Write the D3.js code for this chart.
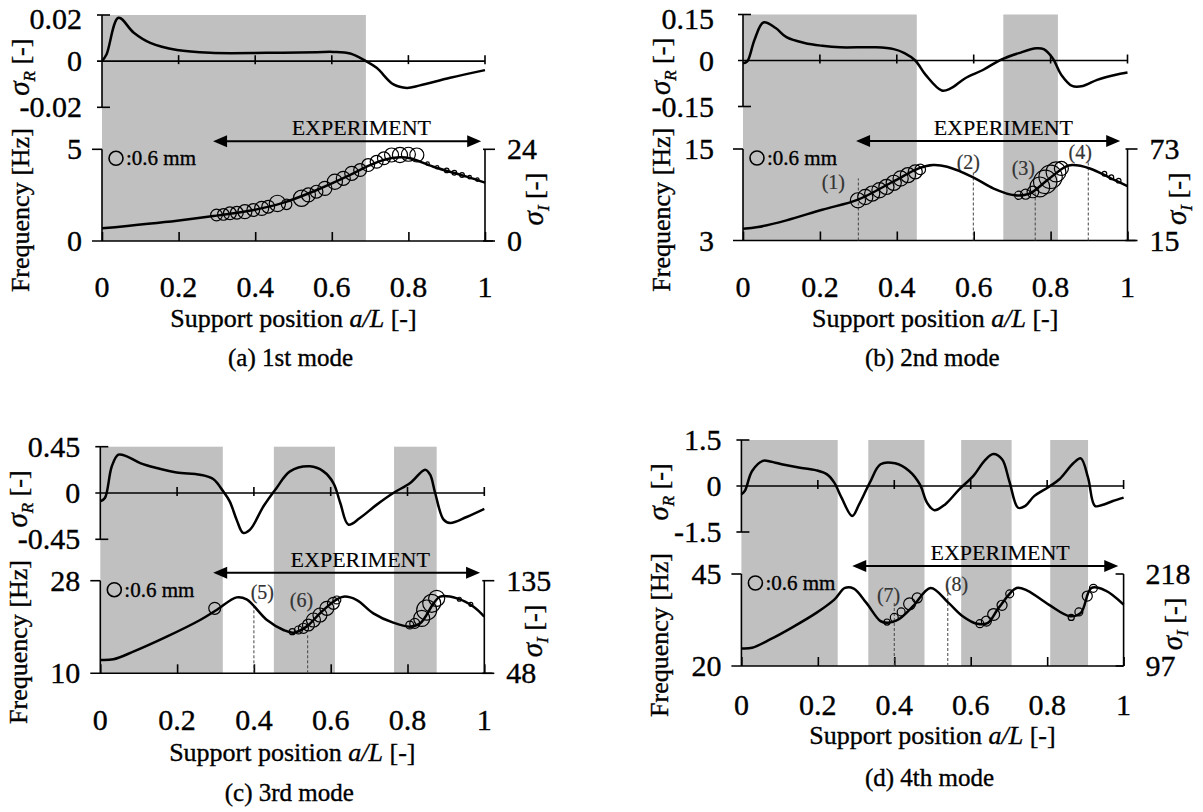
<!DOCTYPE html>
<html>
<head>
<meta charset="utf-8">
<script src="https://cdn.jsdelivr.net/npm/d3@7"></script>
<style>
  body { margin: 0; background: #fff; }
  svg { font-family: "Liberation Serif", "Times New Roman", serif; }
  svg text { stroke: #000; stroke-width: 0.35px; }
  svg text.mark { stroke: #333; stroke-width: 0.2px; }
</style>
</head>
<body>
<svg id="fig" width="1203" height="812"></svg>
<script>
// ---- shared ticks
var xTicks = [0, 0.2, 0.4, 0.6, 0.8, 1]

// ---- (a) 1st mode
var aSigX = [0, 0.012, 0.043, 0.083, 0.126, 0.196, 0.283, 0.43, 0.561, 0.604, 0.648, 0.689, 0.717, 0.761, 0.796, 0.83, 0.909, 1.0]
var aSigR = [0, 0.003, 0.0188, 0.0123, 0.0079, 0.0048, 0.0036, 0.0036, 0.0039, 0.004, 0.0033, 0, -0.0029, -0.0101, -0.0116, -0.0105, -0.0072, -0.0039]
var aFreqX = [0, 0.196, 0.291, 0.396, 0.474, 0.561, 0.648, 0.691, 0.735, 0.778, 0.804, 0.865, 0.952, 1.0]
var aFreq = [0.69, 1.11, 1.36, 1.69, 2.09, 2.78, 3.6, 4.05, 4.42, 4.56, 4.51, 4.05, 3.51, 3.18]
var aExpX = [0.299, 0.317, 0.334, 0.352, 0.373, 0.395, 0.417, 0.434, 0.458, 0.482, 0.521, 0.539, 0.56, 0.582, 0.608, 0.63, 0.652, 0.674, 0.695, 0.717, 0.736, 0.756, 0.778, 0.8, 0.822, 0.85, 0.875, 0.9, 0.92, 0.94, 0.96, 0.98]
var aExpF = [1.42, 1.45, 1.51, 1.54, 1.6, 1.69, 1.78, 1.87, 2.05, 2.0, 2.33, 2.51, 2.69, 2.87, 3.23, 3.42, 3.69, 3.87, 4.14, 4.32, 4.51, 4.69, 4.69, 4.73, 4.69, 4.22, 4.02, 3.85, 3.72, 3.6, 3.48, 3.35]
var aExpAmp = [0.5, 0.5, 0.55, 0.55, 0.6, 0.55, 0.6, 0.55, 0.7, 0.45, 0.7, 0.6, 0.55, 0.6, 0.65, 0.6, 0.6, 0.55, 0.55, 0.55, 0.55, 0.6, 0.65, 0.6, 0.6, 0.15, 0.15, 0.2, 0.2, 0.2, 0.15, 0.15]
var aBands = [[0, 0.689]]
var aSigTicks = [-0.02, 0, 0.02]
var aFreqTicks = [0, 5]
var aSigITicks = [0, 24]
var aExpRange = [0.29, 0.99]
var aMarkX = [], aMarkTop = [], aMarkLabel = []

// ---- (b) 2nd mode
var bSigX = [0, 0.011, 0.03, 0.053, 0.085, 0.113, 0.16, 0.206, 0.253, 0.345, 0.392, 0.42, 0.448, 0.475, 0.517, 0.54, 0.578, 0.624, 0.67, 0.717, 0.763, 0.782, 0.805, 0.828, 0.856, 0.884, 0.921, 0.967, 1.0]
var bSigR = [-0.009, -0.003, 0.068, 0.124, 0.106, 0.076, 0.057, 0.048, 0.043, 0.043, 0.037, 0.024, 0, -0.047, -0.098, -0.091, -0.058, -0.031, 0.002, 0.024, 0.04, 0.037, 0.008, -0.047, -0.083, -0.083, -0.063, -0.047, -0.039]
var bFreqX = [0, 0.039, 0.113, 0.206, 0.299, 0.392, 0.457, 0.494, 0.531, 0.596, 0.652, 0.707, 0.745, 0.791, 0.838, 0.856, 0.902, 0.958, 1.0]
var bFreq = [4.54, 4.76, 5.64, 7.04, 8.36, 10.77, 12.45, 12.89, 12.67, 11.35, 9.81, 8.93, 9.15, 10.9, 12.67, 12.89, 12.45, 11.13, 10.12]
var bExpX = [0.299, 0.318, 0.336, 0.355, 0.373, 0.392, 0.41, 0.429, 0.448, 0.461, 0.717, 0.735, 0.754, 0.772, 0.786, 0.8, 0.814, 0.828, 0.94, 0.958, 0.977]
var bExpF = [8.27, 8.71, 9.15, 9.59, 10.03, 10.56, 11.13, 11.57, 12.01, 12.32, 8.93, 9.07, 9.37, 10.03, 10.69, 11.35, 12.0, 12.45, 11.75, 11.3, 10.85]
var bExpAmp = [0.65, 0.65, 0.65, 0.65, 0.65, 0.65, 0.65, 0.65, 0.6, 0.45, 0.35, 0.43, 0.5, 0.85, 1.0, 1.0, 0.85, 0.6, 0.2, 0.2, 0.2]
var bBands = [[0, 0.452], [0.677, 0.819]]
var bSigTicks = [-0.15, 0, 0.15]
var bFreqTicks = [3, 15]
var bSigITicks = [15, 73]
var bExpRange = [0.294, 0.981]
var bMarkX = [0.3, 0.599, 0.76, 0.898]
var bMarkTop = [11.14, 12.2, 9.4, 13.55]
var bMarkLabel = ["(1)", "(2)", "(3)", "(4)"]

// ---- (c) 3rd mode
var cSigX = [0, 0.012, 0.03, 0.047, 0.069, 0.104, 0.147, 0.199, 0.26, 0.294, 0.32, 0.337, 0.355, 0.372, 0.39, 0.425, 0.459, 0.494, 0.546, 0.581, 0.607, 0.625, 0.646, 0.676, 0.72, 0.763, 0.807, 0.846, 0.859, 0.872, 0.894, 0.911, 0.954, 1.0]
var cSigR = [-0.081, -0.049, 0.26, 0.372, 0.356, 0.291, 0.243, 0.2, 0.178, 0.136, 0.016, -0.081, -0.259, -0.388, -0.356, -0.129, 0.049, 0.21, 0.259, 0.21, 0.097, -0.097, -0.307, -0.243, -0.113, 0, 0.097, 0.227, 0.178, 0, -0.259, -0.291, -0.233, -0.155]
var cFreqX = [0, 0.034, 0.086, 0.173, 0.26, 0.303, 0.355, 0.381, 0.434, 0.477, 0.503, 0.537, 0.572, 0.607, 0.633, 0.668, 0.711, 0.763, 0.807, 0.833, 0.868, 0.885, 0.929, 0.972, 1.0]
var cFreq = [12.59, 12.72, 14.21, 17.12, 20.36, 22.3, 24.76, 24.37, 20.36, 18.42, 17.9, 19.07, 21.66, 23.92, 24.89, 24.24, 21.66, 19.84, 19.07, 19.71, 23.6, 24.89, 24.56, 22.95, 21.01]
var cExpX = [0.298, 0.5, 0.516, 0.529, 0.542, 0.555, 0.572, 0.59, 0.607, 0.616, 0.806, 0.819, 0.837, 0.85, 0.863, 0.876, 0.935, 0.965]
var cExpF = [22.63, 18.1, 18.42, 18.75, 19.39, 20.36, 21.33, 22.63, 23.6, 24.25, 19.39, 19.7, 20.68, 22.3, 23.6, 24.57, 24.4, 23.4]
var cExpAmp = [0.51, 0.26, 0.34, 0.43, 0.51, 0.6, 0.6, 0.6, 0.51, 0.34, 0.34, 0.43, 0.69, 0.86, 0.77, 0.69, 0.17, 0.17]
var cBands = [[0, 0.319], [0.452, 0.611], [0.765, 0.876]]
var cSigTicks = [-0.45, 0, 0.45]
var cFreqTicks = [10, 28]
var cSigITicks = [48, 135]
var cExpRange = [0.294, 0.989]
var cMarkX = [0.4, 0.54]
var cMarkTop = [22.9, 17.4]
var cMarkLabel = ["(5)", "(6)"]

// ---- (d) 4th mode
var dSigX = [0, 0.009, 0.028, 0.056, 0.075, 0.112, 0.15, 0.196, 0.224, 0.243, 0.262, 0.29, 0.308, 0.336, 0.364, 0.402, 0.439, 0.467, 0.486, 0.505, 0.533, 0.57, 0.607, 0.636, 0.659, 0.682, 0.701, 0.724, 0.743, 0.766, 0.804, 0.832, 0.869, 0.888, 0.907, 0.925, 0.944, 0.972, 1.0]
var dSigR = [-0.27, -0.16, 0.49, 0.82, 0.8, 0.69, 0.6, 0.51, 0.38, 0.11, -0.38, -0.98, -0.6, 0.11, 0.71, 0.74, 0.49, 0.05, -0.55, -0.79, -0.6, -0.11, 0.33, 0.82, 1.04, 0.87, 0.16, -0.71, -0.65, -0.33, -0.03, 0.22, 0.75, 0.9, 0.27, -0.65, -0.62, -0.49, -0.38]
var dFreqX = [0, 0.028, 0.075, 0.131, 0.196, 0.243, 0.271, 0.294, 0.327, 0.364, 0.383, 0.411, 0.449, 0.495, 0.542, 0.579, 0.617, 0.645, 0.673, 0.72, 0.748, 0.804, 0.86, 0.888, 0.916, 0.953, 1.0]
var dFreq = [24.78, 24.96, 27.22, 30.38, 34.44, 38.05, 41.21, 41.03, 37.15, 32.18, 31.73, 32.63, 36.24, 41.21, 37.15, 33.53, 31.46, 31.73, 35.79, 41.21, 40.49, 36.69, 33.53, 34.44, 41.21, 40.49, 36.69]
var dExpX = [0.381, 0.4, 0.418, 0.44, 0.46, 0.624, 0.641, 0.66, 0.682, 0.702, 0.863, 0.883, 0.905, 0.921]
var dExpF = [31.95, 33.2, 34.7, 36.9, 38.5, 31.5, 32.2, 34.0, 36.5, 39.6, 33.2, 34.7, 39.0, 41.1]
var dExpAmp = [0.26, 0.34, 0.34, 0.51, 0.43, 0.34, 0.43, 0.51, 0.43, 0.34, 0.26, 0.34, 0.43, 0.34]
var dBands = [[0, 0.252], [0.332, 0.479], [0.575, 0.707], [0.808, 0.907]]
var dSigTicks = [-1.5, 0, 1.5]
var dFreqTicks = [20, 45]
var dSigITicks = [97, 218]
var dExpRange = [0.29, 0.986]
var dMarkX = [0.4, 0.54]
var dMarkTop = [37.1, 41.5]
var dMarkLabel = ["(7)", "(8)"]

// ---- layout (pixels) of each panel
var panels = [
  { x0: 102, x1: 485, uTop: 15, uBot: 107.3, lTop: 149.3, lBot: 241, tickY: 297, titleY: 327, capY: 366, rightIn: false, labGap: 20,
    caption: "(a) 1st mode", sigX: aSigX, sigR: aSigR, fX: aFreqX, f: aFreq, eX: aExpX, eF: aExpF, eA: aExpAmp,
    bands: aBands, sT: aSigTicks, fT: aFreqTicks, iT: aSigITicks, exp: aExpRange,
    mX: aMarkX, mTop: aMarkTop, mLab: aMarkLabel, mPos: [] },
  { x0: 743, x1: 1127.5, uTop: 14.5, uBot: 106.5, lTop: 149, lBot: 240.5, tickY: 297, titleY: 327, capY: 366, rightIn: false, labGap: 29,
    caption: "(b) 2nd mode", sigX: bSigX, sigR: bSigR, fX: bFreqX, f: bFreq, eX: bExpX, eF: bExpF, eA: bExpAmp,
    bands: bBands, sT: bSigTicks, fT: bFreqTicks, iT: bSigITicks, exp: bExpRange,
    mX: bMarkX, mTop: bMarkTop, mLab: bMarkLabel, mPos: [[0.235, 10.7], [0.586, 13.3], [0.729, 12.45], [0.877, 14.6]] },
  { x0: 100.3, x1: 484.3, uTop: 446.7, uBot: 539.3, lTop: 580.7, lBot: 673.3, tickY: 730, titleY: 761, capY: 801, rightIn: false, labGap: 20,
    caption: "(c) 3rd mode", sigX: cSigX, sigR: cSigR, fX: cFreqX, f: cFreq, eX: cExpX, eF: cExpF, eA: cExpAmp,
    bands: cBands, sT: cSigTicks, fT: cFreqTicks, iT: cSigITicks, exp: cExpRange,
    mX: cMarkX, mTop: cMarkTop, mLab: cMarkLabel, mPos: [[0.422, 25.9], [0.524, 24.25]] },
  { x0: 741.4, x1: 1123.6, uTop: 440, uBot: 532, lTop: 574, lBot: 666, tickY: 715, titleY: 744, capY: 786, rightIn: true, labGap: 20,
    caption: "(d) 4th mode", sigX: dSigX, sigR: dSigR, fX: dFreqX, f: dFreq, eX: dExpX, eF: dExpF, eA: dExpAmp,
    bands: dBands, sT: dSigTicks, fT: dFreqTicks, iT: dSigITicks, exp: dExpRange,
    mX: dMarkX, mTop: dMarkTop, mLab: dMarkLabel, mPos: [[0.385, 39.2], [0.563, 42.3]] }
]

var svg = d3.select("#fig")

// circle radius: 0.6 mm -> 7 px (legend)
var rScale = d3.scaleLinear().domain([0, 0.6]).range([0, 7])

function hline(g, x1, x2, y, w) {
  g.append("line").attr("x1", x1).attr("x2", x2).attr("y1", y).attr("y2", y)
    .attr("stroke", "#000").attr("stroke-width", w || 1.6)
}
function vline(g, x, y1, y2, w) {
  g.append("line").attr("x1", x).attr("x2", x).attr("y1", y1).attr("y2", y2)
    .attr("stroke", "#000").attr("stroke-width", w || 1.6)
}

function sigmaLabel(g, x, y, sub, rot) {
  var t = g.append("text").attr("transform", "translate(" + x + "," + y + ") rotate(" + rot + ")")
    .attr("text-anchor", "middle").style("font-size", "26px")
  t.append("tspan").attr("font-style", "italic").style("font-size", "29px").text("\u03C3")
  t.append("tspan").attr("font-style", "italic").style("font-size", "17px").attr("dy", 6).text(sub)
  t.append("tspan").attr("dy", -6).text(" [-]")
}

panels.forEach(function (p) {
  var g = svg.append("g")
  var x = d3.scaleLinear().domain([0, 1]).range([p.x0, p.x1])
  var yU = d3.scaleLinear().domain([p.sT[0], p.sT[2]]).range([p.uBot, p.uTop])
  var yL = d3.scaleLinear().domain(p.fT).range([p.lBot, p.lTop])

  // gray bands
  g.selectAll("rect.band").data(p.bands).join("rect")
    .attr("class", "band")
    .attr("x", function (d) { return x(d[0]) })
    .attr("width", function (d) { return x(d[1]) - x(d[0]) })
    .attr("y", p.uTop).attr("height", p.lBot - p.uTop)
    .attr("fill", "#c0c0c0")

  // ---- upper plot axes
  var y0 = yU(0)
  vline(g, p.x0, p.uTop, p.uBot)
  hline(g, p.x0 - 5, p.x1, y0)
  hline(g, p.x0 - 5, p.x0 + 8, yU(p.sT[0]))
  hline(g, p.x0 - 5, p.x0 + 8, yU(p.sT[2]))
  g.selectAll("line.utick").data(xTicks.slice(1)).join("line").attr("class", "utick")
    .attr("x1", x).attr("x2", x).attr("y1", y0 - 6).attr("y2", y0 + 3)
    .attr("stroke", "#000").attr("stroke-width", 1.6)
  g.selectAll("text.stick").data(p.sT).join("text").attr("class", "stick")
    .attr("x", p.x0 - p.labGap).attr("y", function (d) { return Math.max(yU(d) + 10, 29) })
    .attr("text-anchor", "end").style("font-size", "30px")
    .text(function (d) { return String(d) })

  // ---- lower plot axes
  vline(g, p.x0, p.lTop, p.lBot)
  hline(g, p.x0 - 10, p.x0, p.lTop)
  hline(g, p.x0 - 10, p.rightIn ? p.x1 : p.x1 + 8, p.lBot)
  vline(g, p.x1, p.lTop, p.lBot)
  if (p.rightIn) {
    hline(g, p.x1 - 8, p.x1, p.lTop)
    hline(g, p.x1 - 8, p.x1, p.lBot)
  } else {
    hline(g, p.x1 - 2, p.x1 + 10, p.lTop)
    hline(g, p.x1 - 2, p.x1 + 10, p.lBot)
  }
  var xAxis = d3.axisBottom(x).tickValues(xTicks).tickSize(-9).tickFormat("")
  var ax = g.append("g").attr("transform", "translate(0," + p.lBot + ")").call(xAxis)
  ax.select(".domain").remove()
  ax.selectAll(".tick line").attr("stroke-width", 1.6)

  g.selectAll("text.xtick").data(xTicks).join("text").attr("class", "xtick")
    .attr("x", x).attr("y", p.tickY).attr("text-anchor", "middle")
    .style("font-size", "30px").text(function (d) { return String(d) })
  g.selectAll("text.ftick").data(p.fT).join("text").attr("class", "ftick")
    .attr("x", p.x0 - p.labGap).attr("y", function (d) { return yL(d) + 10 })
    .attr("text-anchor", "end").style("font-size", "30px").text(function (d) { return String(d) })
  g.selectAll("text.itick").data(p.iT).join("text").attr("class", "itick")
    .attr("x", p.x1 + 22).attr("y", function (d, i) { return (i ? p.lTop : p.lBot) + 10 })
    .attr("text-anchor", "start").style("font-size", "30px").text(function (d) { return String(d) })

  // axis titles
  sigmaLabel(g, p.x0 - 73, (p.uTop + p.uBot) / 2 + 6, "R", -90)
  g.append("text").attr("transform", "translate(" + (p.x0 - 73) + "," + ((p.lTop + p.lBot) / 2 + 15) + ") rotate(-90)")
    .attr("text-anchor", "middle").style("font-size", "26px").text("Frequency [Hz]")
  sigmaLabel(g, p.x1 + 58, (p.lTop + p.lBot) / 2 + 4, "I", -90)

  var tt = g.append("text").attr("x", (p.x0 + p.x1) / 2).attr("y", p.titleY)
    .attr("text-anchor", "middle").style("font-size", "26px")
  tt.append("tspan").text("Support position ")
  tt.append("tspan").attr("font-style", "italic").text("a/L")
  tt.append("tspan").text(" [-]")

  g.append("text").attr("x", (p.x0 + p.x1) / 2 - 3).attr("y", p.capY)
    .attr("text-anchor", "middle").style("font-size", "25px").text(p.caption)

  // EXPERIMENT arrow
  var ay = p.lTop - 8
  var ax0 = x(p.exp[0]), ax1 = x(p.exp[1])
  hline(g, ax0 + 8, ax1 - 8, ay, 2)
  g.append("path").attr("d", "M" + ax0 + "," + ay + "l14,-6v12z").attr("fill", "#000")
  g.append("path").attr("d", "M" + ax1 + "," + ay + "l-14,-6v12z").attr("fill", "#000")
  g.append("text").attr("x", x(0.677)).attr("y", ay - 6).attr("text-anchor", "middle")
    .style("font-size", "22px").style("stroke-width", "0.15px").text("EXPERIMENT")

  // legend
  g.append("circle").attr("cx", p.x0 + 14).attr("cy", p.lTop + 9).attr("r", rScale(0.6))
    .attr("fill", "none").attr("stroke", "#000").attr("stroke-width", 1.6)
  g.append("text").attr("x", p.x0 + 24).attr("y", p.lTop + 16)
    .style("font-size", "21px").text(":0.6 mm")

  // dashed markers
  g.selectAll("line.mark").data(p.mX).join("line").attr("class", "mark")
    .attr("x1", x).attr("x2", x).attr("y1", p.lBot)
    .attr("y2", function (d, i) { return yL(p.mTop[i]) })
    .attr("stroke", "#444").attr("stroke-width", 1).attr("stroke-dasharray", "3,2")
  g.selectAll("text.mark").data(p.mLab).join("text").attr("class", "mark")
    .attr("x", function (d, i) { return x(p.mPos[i][0]) })
    .attr("y", function (d, i) { return yL(p.mPos[i][1]) + 7 })
    .attr("text-anchor", "middle").attr("fill", "#333").style("font-size", "20px").text(function (d) { return d })

  // curves
  var lineU = d3.line().x(function (d) { return x(d[0]) }).y(function (d) { return yU(d[1]) })
    .curve(d3.curveCatmullRom.alpha(0.5))
  var lineL = d3.line().x(function (d) { return x(d[0]) }).y(function (d) { return yL(d[1]) })
    .curve(d3.curveCatmullRom.alpha(0.5))
  g.append("path").datum(d3.zip(p.sigX, p.sigR)).attr("d", lineU)
    .attr("fill", "none").attr("stroke", "#000").attr("stroke-width", 2.5)
  g.append("path").datum(d3.zip(p.fX, p.f)).attr("d", lineL)
    .attr("fill", "none").attr("stroke", "#000").attr("stroke-width", 2.5)

  // experimental amplitude circles
  g.selectAll("circle.exp").data(d3.zip(p.eX, p.eF, p.eA)).join("circle").attr("class", "exp")
    .attr("cx", function (d) { return x(d[0]) })
    .attr("cy", function (d) { return yL(d[1]) })
    .attr("r", function (d) { return rScale(d[2]) })
    .attr("fill", "none").attr("stroke", "#000").attr("stroke-width", 1.2)
})
</script>
</body>
</html>
